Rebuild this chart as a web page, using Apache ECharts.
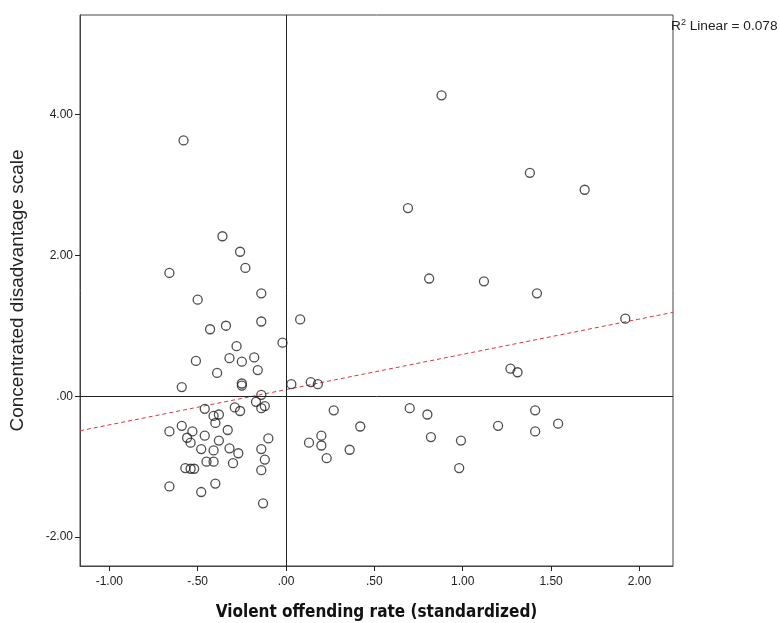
<!DOCTYPE html>
<html>
<head>
<meta charset="utf-8">
<script src="https://cdn.jsdelivr.net/npm/echarts@6/dist/echarts.min.js"></script>
<style>
  html, body { margin: 0; padding: 0; background: #fff; }
  #main { width: 780px; height: 623px; }
</style>
</head>
<body>
<div id="main"></div>
<script>
// violent offending rate (standardized)
var offendX = [
  -0.58, -0.36, -0.26, -0.23, -0.66, -0.50, -0.14, -0.14, 0.08, -0.43,
  -0.34, -0.02, -0.28, -0.51, -0.32, -0.25, -0.18, -0.16, -0.39, -0.59,
  -0.25, -0.25, 0.03, 0.14, 0.18, -0.14, -0.46, -0.29, -0.26, -0.17,
  -0.14, -0.12, -0.41, -0.38, -0.40, -0.59, -0.66, -0.53, -0.33, -0.46,
  -0.56, -0.54, -0.38, -0.10, -0.48, -0.41, -0.32, -0.27, -0.14, -0.45,
  -0.41, -0.30, -0.12, -0.57, -0.54, -0.52, -0.14, -0.66, -0.40, -0.48,
  -0.13, 0.13, 0.20, 0.20, 0.23, 0.88, 1.38, 1.69, 0.69, 0.81,
  1.12, 1.42, 1.92, 1.27, 1.31, 0.27, 0.70, 0.80, 1.41, 0.42,
  1.20, 1.54, 0.82, 0.99, 1.41, 0.36, 0.98
];
// concentrated disadvantage scale
var disadvY = [
  3.63, 2.27, 2.05, 1.82, 1.75, 1.37, 1.46, 1.06, 1.09, 0.95,
  1.00, 0.76, 0.71, 0.50, 0.54, 0.49, 0.55, 0.37, 0.33, 0.13,
  0.18, 0.15, 0.17, 0.20, 0.17, 0.02, -0.18, -0.16, -0.21, -0.08,
  -0.17, -0.14, -0.28, -0.26, -0.38, -0.42, -0.50, -0.50, -0.48, -0.56,
  -0.59, -0.66, -0.63, -0.60, -0.75, -0.77, -0.74, -0.81, -0.75, -0.93,
  -0.93, -0.95, -0.90, -1.02, -1.03, -1.03, -1.05, -1.28, -1.24, -1.36,
  -1.52, -0.66, -0.56, -0.70, -0.88, 4.27, 3.17, 2.93, 2.67, 1.67,
  1.63, 1.46, 1.10, 0.39, 0.34, -0.20, -0.17, -0.26, -0.20, -0.43,
  -0.42, -0.39, -0.58, -0.63, -0.50, -0.76, -1.02
];
// fit line end points, as drawn
var fitX = [-1.166, 2.19];
var fitY = [-0.49, 1.19];
var xTicks = [-1, -0.5, 0, 0.5, 1, 1.5, 2];
var yTicks = [-2, 0, 2, 4];

function fmt(v) {
  var s = Number(v).toFixed(2);
  return s.replace(/^(-?)0\./, '$1.');
}

var points = offendX.map(function (x, i) { return [x, disadvY[i]]; });
var fitLine = fitX.map(function (x, i) { return [x, fitY[i]]; });

var myChart = echarts.init(document.getElementById('main'));
var option = {
  backgroundColor: '#fff',
  animation: false,
  grid: {
    left: 80, right: 107, top: 15, bottom: 57,
    outerBoundsMode: 'none',
    show: true, borderColor: '#444', borderWidth: 1, backgroundColor: '#fff'
  },
  xAxis: {
    type: 'value', min: -1.166, max: 2.19,
    name: 'Violent offending rate (standardized)',
    nameLocation: 'middle', nameGap: 38,
    nameTextStyle: { fontFamily: 'DejaVu Sans Condensed', fontWeight: 'bold', fontSize: 17, color: '#111' },
    axisLine: { show: true, onZero: false, lineStyle: { color: '#444' } },
    axisTick: { show: true, length: 5, customValues: xTicks, lineStyle: { color: '#222' } },
    axisLabel: { customValues: xTicks, formatter: fmt, margin: 10, fontFamily: 'Liberation Sans', fontSize: 12, color: '#222' },
    splitLine: { show: false }
  },
  yAxis: {
    type: 'value', min: -2.41, max: 5.41,
    name: 'Concentrated disadvantage scale',
    nameLocation: 'middle', nameGap: 53,
    nameTextStyle: { fontFamily: 'Liberation Sans', fontSize: 19, color: '#222' },
    axisLine: { show: true, onZero: false, lineStyle: { color: '#444' } },
    axisTick: { show: true, length: 5, customValues: yTicks, lineStyle: { color: '#222' } },
    axisLabel: { customValues: yTicks, formatter: fmt, margin: 7, fontFamily: 'Liberation Sans', fontSize: 12, color: '#222' },
    splitLine: { show: false }
  },
  graphic: [{
    type: 'text', left: 671, top: 18,
    style: {
      text: '{a|R}{s|2}{a| Linear = 0.078}',
      rich: {
        a: { fontFamily: 'Liberation Sans', fontSize: 13.7, fill: '#222' },
        s: { fontFamily: 'Liberation Sans', fontSize: 9, fill: '#222', padding: [0, 0, 8, 0] }
      }
    }
  }],
  series: [
    {
      type: 'line', data: fitLine, symbol: 'none', silent: true,
      lineStyle: { color: '#d9363e', width: 1, type: [4, 3] },
      z: 1
    },
    {
      type: 'scatter', data: points, symbol: 'circle', symbolSize: 9,
      itemStyle: { color: 'rgba(255,255,255,0)', borderColor: '#222', borderWidth: 1.3 },
      markLine: {
        silent: true, symbol: ['none', 'none'], label: { show: false },
        lineStyle: { color: '#222', type: 'solid', width: 1 },
        data: [{ xAxis: 0 }, { yAxis: 0 }]
      },
      z: 3
    }
  ]
};
myChart.setOption(option);
</script>
</body>
</html>
